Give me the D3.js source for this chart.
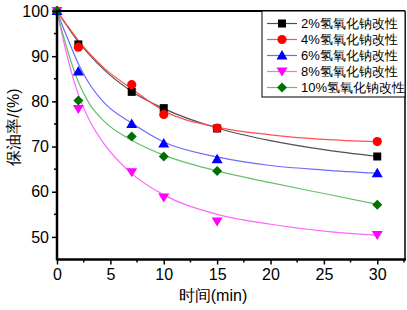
<!DOCTYPE html>
<html><head><meta charset="utf-8">
<script src="https://cdn.jsdelivr.net/npm/d3@7"></script>
<style>body{margin:0;background:#fff}svg{display:block}</style>
</head><body>
<svg id="c" width="407" height="310"></svg>
<script>
// ---- data ----
const seriesNames = ["2%氢氧化钠改性","4%氢氧化钠改性","6%氢氧化钠改性","8%氢氧化钠改性","10%氢氧化钠改性"];
const times = [0, 2, 7, 10, 15, 30];
const val2 = [100, 92.6, 82.1, 78.5, 74.0, 67.8];
const val4 = [100, 92.0, 83.7, 77.1, 74.1, 71.1];
const val6 = [100, 86.6, 75.0, 70.7, 67.2, 64.1];
const val8 = [100, 78.3, 64.3, 58.7, 53.4, 50.4];
const val10 = [100, 80.2, 72.2, 67.8, 64.6, 57.1];
// fitted curves
const fitT = [0, 0.5, 1, 2, 3, 4.5, 7, 10, 15, 20, 25, 30];
const fit2 = [100, 98.2, 96.5, 93.2, 90.4, 86.8, 82.2, 78.4, 74.1, 71.3, 69.3, 67.8];
const fit4 = [100, 98.3, 96.7, 93.5, 90.7, 87.2, 82.8, 77.9, 74.3, 72.6, 71.6, 71.1];
const fit6 = [100, 96.8, 93.9, 88.3, 84.0, 79.5, 75.2, 71.0, 67.7, 65.8, 64.8, 64.1];
const fit8 = [100, 94.5, 89.6, 81.5, 76.0, 70.3, 64.0, 59.3, 55.0, 52.8, 51.3, 50.4];
const fit10 = [100, 95.3, 91.2, 84.3, 79.6, 75.4, 71.4, 68.1, 64.6, 62.0, 59.6, 57.2];
const xTicks = [0, 5, 10, 15, 20, 25, 30];
const yTicks = [50, 60, 70, 80, 90, 100];

const series = [
  {name: seriesNames[0], v: val2, f: fit2, mc: "#000000", lc: "#505050", shape: "square"},
  {name: seriesNames[1], v: val4, f: fit4, mc: "#ff0000", lc: "#ff5050", shape: "circle"},
  {name: seriesNames[2], v: val6, f: fit6, mc: "#0000ff", lc: "#6b6bff", shape: "triangle"},
  {name: seriesNames[3], v: val8, f: fit8, mc: "#ff00ff", lc: "#ff66ff", shape: "down"},
  {name: seriesNames[4], v: val10, f: fit10, mc: "#007000", lc: "#66c066", shape: "diamond"}
];

const svg = d3.select("#c");
const L = 57, R = 405, T = 11, B = 259.5;
const x = d3.scaleLinear().domain([0, 32.6]).range([L, R]);
const y = d3.scaleLinear().domain([45, 100]).range([B, T]);
const font = "'Liberation Sans', Arial, sans-serif";

function marker(g, shape, cx, cy, color) {
  if (shape === "square") g.append("rect").attr("x", cx-4).attr("y", cy-4).attr("width", 8).attr("height", 8).attr("fill", color);
  else if (shape === "circle") g.append("circle").attr("cx", cx).attr("cy", cy).attr("r", 4.6).attr("fill", color);
  else if (shape === "triangle") g.append("path").attr("d", `M${cx},${cy-5.5}L${cx+5.5},${cy+4}L${cx-5.5},${cy+4}Z`).attr("fill", color);
  else if (shape === "down") g.append("path").attr("d", `M${cx},${cy+5}L${cx+5.5},${cy-4}L${cx-5.5},${cy-4}Z`).attr("fill", color);
  else if (shape === "diamond") g.append("path").attr("d", `M${cx},${cy-5}L${cx+5},${cy}L${cx},${cy+5}L${cx-5},${cy}Z`).attr("fill", color);
}

// clip
svg.append("clipPath").attr("id","clip").append("rect").attr("x",L).attr("y",T).attr("width",R-L).attr("height",B-T);

// fit lines
const line = d3.line().x(d => x(d[0])).y(d => y(d[1])).curve(d3.curveMonotoneX);
const gl = svg.append("g").attr("clip-path","url(#clip)");
series.forEach(s => {
  gl.append("path").attr("d", line(fitT.map((t,i)=>[t, s.f[i]]))).attr("fill","none").attr("stroke", s.lc).attr("stroke-width", 1.2);
});
// markers
const gm = svg.append("g");
series.forEach(s => {
  times.forEach((t,i) => marker(gm, s.shape, x(t), y(s.v[i]), s.mc));
});

// axes
const xAxis = d3.axisBottom(x).tickValues(xTicks).tickSize(5).tickPadding(4);
const gx = svg.append("g").attr("transform", `translate(0,${B})`).call(xAxis);
gx.select(".domain").remove();
gx.selectAll("line").attr("stroke","#000").attr("stroke-width",1.5);
gx.selectAll("text").attr("font-family", font).attr("font-size", 16).attr("fill","#000");
const xMinor = d3.range(2.5, 32.6, 5);
svg.append("g").selectAll("line").data(xMinor).join("line")
  .attr("x1", d=>x(d)).attr("x2", d=>x(d)).attr("y1", B).attr("y2", B+3).attr("stroke","#000").attr("stroke-width",1.5);

const yAxis = d3.axisLeft(y).tickValues(yTicks).tickSize(5).tickPadding(3);
const gy = svg.append("g").attr("transform", `translate(${L},0)`).call(yAxis);
gy.select(".domain").remove();
gy.selectAll("line").attr("stroke","#000").attr("stroke-width",1.5);
gy.selectAll("text").attr("font-family", font).attr("font-size", 16).attr("fill","#000");
const yMinor = [55, 65, 75, 85, 95];
svg.append("g").selectAll("line").data(yMinor).join("line")
  .attr("x1", L-3).attr("x2", L).attr("y1", d=>y(d)).attr("y2", d=>y(d)).attr("stroke","#000").attr("stroke-width",1.5);

// frame
svg.append("line").attr("x1",L).attr("x2",R).attr("y1",T).attr("y2",T).attr("stroke","#000").attr("stroke-width",2.2);
svg.append("line").attr("x1",R).attr("x2",R).attr("y1",T).attr("y2",B).attr("stroke","#000").attr("stroke-width",1.5);
svg.append("line").attr("x1",L).attr("x2",R+1).attr("y1",B).attr("y2",B).attr("stroke","#000").attr("stroke-width",2.5);
svg.append("line").attr("x1",L).attr("x2",L).attr("y1",T-1).attr("y2",B+1).attr("stroke","#000").attr("stroke-width",2.5);

// axis titles
svg.append("text").attr("x", 213).attr("y", 301).attr("text-anchor","middle")
  .attr("font-family", font).attr("font-size", 16).text("时间(min)");
svg.append("text").attr("transform","translate(19,127) rotate(-90)").attr("text-anchor","middle")
  .attr("font-family", font).attr("font-size", 16).text("保油率/(%)");

// legend
const lg = svg.append("g");
lg.append("rect").attr("x", 262).attr("y", T).attr("width", R-262).attr("height", 86)
  .attr("fill","#fff").attr("stroke","#000").attr("stroke-width",1);
series.forEach((s,i) => {
  const cy = 23.5 + i*16;
  lg.append("line").attr("x1",267).attr("x2",297).attr("y1",cy).attr("y2",cy).attr("stroke",s.lc).attr("stroke-width",1.2);
  marker(lg, s.shape, 282, cy, s.mc);
  lg.append("text").attr("x",301).attr("y",cy+4.5).attr("font-family",font).attr("font-size",13).text(s.name);
});
</script>
</body></html>
